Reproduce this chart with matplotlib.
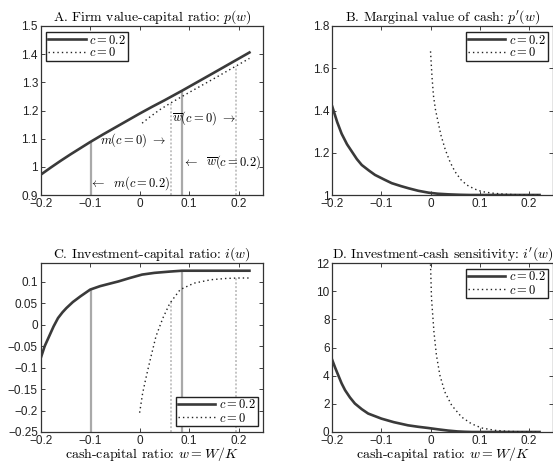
import matplotlib
matplotlib.use('Agg')
import matplotlib.pyplot as plt
from matplotlib.ticker import FuncFormatter

plt.rcParams['mathtext.fontset'] = 'cm'
plt.rcParams['font.family'] = ['Liberation Sans', 'DejaVu Sans']

# ---- data ----
# panel A: firm value-capital ratio p(w)
wa_hi = [-0.2, -0.18, -0.16, -0.14, -0.12, -0.1, -0.075, -0.05, -0.025, 0.0, 0.025, 0.05, 0.0855, 0.15, 0.222]
pa_hi = [0.972, 0.997, 1.021, 1.044, 1.066, 1.088, 1.114, 1.139, 1.164, 1.189, 1.213, 1.236, 1.270, 1.334, 1.406]
wa_lo = [0.005, 0.02, 0.04, 0.063, 0.1, 0.15, 0.195, 0.222]
pa_lo = [1.155, 1.176, 1.202, 1.227, 1.264, 1.313, 1.358, 1.385]

# panel B: marginal value of cash p'(w)
wb_hi = [-0.2, -0.19, -0.181, -0.17, -0.16, -0.15, -0.14, -0.125, -0.113, -0.095, -0.079, -0.06, -0.045, -0.025, -0.004, 0.015, 0.037, 0.06, 0.08, 0.222]
pb_hi = [1.418, 1.345, 1.29, 1.24, 1.205, 1.17, 1.142, 1.115, 1.095, 1.074, 1.056, 1.042, 1.032, 1.02, 1.011, 1.006, 1.003, 1.001, 1.0, 1.0]
wb_lo = [0.0, 0.003, 0.006, 0.01, 0.015, 0.021, 0.03, 0.04, 0.05, 0.062, 0.074, 0.09, 0.105, 0.125, 0.145, 0.17, 0.2, 0.222]
pb_lo = [1.68, 1.56, 1.47, 1.405, 1.35, 1.285, 1.215, 1.155, 1.11, 1.072, 1.047, 1.028, 1.016, 1.009, 1.005, 1.002, 1.0, 1.0]

# panel C: investment-capital ratio i(w)
wc_hi = [-0.2, -0.192, -0.183, -0.174, -0.165, -0.156, -0.148, -0.135, -0.12, -0.1, -0.08, -0.06, -0.043, -0.02, 0.005, 0.03, 0.061, 0.0855, 0.222]
ic_hi = [-0.078, -0.05, -0.027, -0.004, 0.0156, 0.029, 0.039, 0.053, 0.066, 0.082, 0.09, 0.096, 0.101, 0.109, 0.117, 0.121, 0.124, 0.126, 0.126]
wc_lo = [0.0, 0.006, 0.012, 0.018, 0.023, 0.033, 0.047, 0.061, 0.082, 0.11, 0.144, 0.175, 0.2, 0.222]
ic_lo = [-0.205, -0.16, -0.128, -0.098, -0.074, -0.027, 0.0156, 0.05, 0.082, 0.097, 0.105, 0.108, 0.109, 0.109]

# panel D: investment-cash sensitivity i'(w)
wd_hi = [-0.2, -0.194, -0.188, -0.181, -0.174, -0.164, -0.154, -0.14, -0.127, -0.1, -0.075, -0.046, -0.025, -0.005, 0.015, 0.036, 0.055, 0.07, 0.085, 0.222]
id_hi = [5.1, 4.55, 4.04, 3.45, 2.97, 2.45, 2.02, 1.62, 1.31, 0.95, 0.7, 0.475, 0.37, 0.285, 0.19, 0.1, 0.04, 0.015, 0.0, 0.0]
wd_lo = [0.0, 0.002, 0.007, 0.012, 0.019, 0.029, 0.043, 0.063, 0.083, 0.104, 0.131, 0.158, 0.19, 0.222]
id_lo = [11.9, 9.5, 7.1, 5.46, 4.04, 2.85, 1.9, 1.07, 0.59, 0.285, 0.12, 0.05, 0.01, 0.0]

# boundaries: m and w-bar for c=0.2 and c=0
m_hi, wbar_hi = -0.098, 0.0855
m_lo, wbar_lo = 0.063, 0.195

xticks = [-0.2, -0.1, 0, 0.1, 0.2]

DARK = '#3a3a3a'
GREY = '#a9a9a9'
SERIF = 'cmr10'


def fmt(v, pos):
    s = f'{v:g}'
    if s == '-0':
        s = '0'
    return s.replace('-', '\u2212')


def style(ax, ylim, yticks):
    ax.set_xlim(-0.2, 0.25)
    ax.set_ylim(*ylim)
    ax.set_xticks(xticks)
    ax.set_yticks(yticks)
    ax.xaxis.set_major_formatter(FuncFormatter(fmt))
    ax.yaxis.set_major_formatter(FuncFormatter(fmt))
    ax.tick_params(direction='in', top=True, right=True, length=3, width=0.6,
                   labelsize=8.5, pad=2, colors='#222222')
    for sp in ax.spines.values():
        sp.set_linewidth(0.9)
        sp.set_color('#333333')


def curves(ax, w1, y1, w0, y0):
    ax.plot(w1, y1, color=DARK, lw=1.9, label=r'$c = 0.2$', zorder=3)
    ax.plot(w0, y0, color='#222222', lw=1.0, linestyle=(0, (1, 2.2)), label=r'$c = 0$', zorder=3)


def legend(ax, loc):
    lg = ax.legend(loc=loc, prop={'family': SERIF, 'size': 9}, handlelength=3.0,
                   handletextpad=0.3, labelspacing=0.0, borderpad=0.15,
                   borderaxespad=0.45, fancybox=False, framealpha=1)
    lg.get_frame().set_edgecolor('#222222')
    lg.get_frame().set_linewidth(1.0)


def title(ax, s):
    ax.set_title(s, fontfamily=SERIF, fontsize=9.9, pad=4)


fig = plt.figure(figsize=(5.53, 4.62), dpi=100)
W, H = 553.0, 462.0
axA = fig.add_axes([40.7 / W, 1 - 195 / H, 222.6 / W, 169 / H])
axB = fig.add_axes([332.3 / W, 1 - 195 / H, 221.0 / W, 169 / H])
axC = fig.add_axes([40.7 / W, 1 - 432 / H, 222.6 / W, 169 / H])
axD = fig.add_axes([332.3 / W, 1 - 432 / H, 221.0 / W, 169 / H])

# A
style(axA, (0.9, 1.5), [0.9, 1.0, 1.1, 1.2, 1.3, 1.4, 1.5])
curves(axA, wa_hi, pa_hi, wa_lo, pa_lo)
axA.vlines([m_hi, wbar_hi], 0.9, [1.088, 1.270], color=GREY, lw=1.6, zorder=2)
axA.vlines([m_lo, wbar_lo], 0.9, [1.227, 1.358], color='#c4c4c4', lw=1.4,
           linestyles=[(0, (1, 1))], zorder=2)
tk = dict(fontfamily=SERIF, fontsize=9, va='center')
axA.text(0.053, 1.095, r'$m(c = 0)\ \rightarrow$', ha='right', **tk)
axA.text(0.066, 1.172, r'$\overline{w}(c = 0)\ \rightarrow$', ha='left', **tk)
axA.text(0.246, 1.017, r'$\leftarrow\ \ \overline{w}(c = 0.2)$', ha='right', **tk)
axA.text(0.062, 0.943, r'$\leftarrow\ \ m(c = 0.2)$', ha='right', **tk)
legend(axA, 'upper left')
title(axA, r'A. Firm value-capital ratio: $p(w)$')

# B
style(axB, (1.0, 1.8), [1.0, 1.2, 1.4, 1.6, 1.8])
curves(axB, wb_hi, pb_hi, wb_lo, pb_lo)
legend(axB, 'upper right')
title(axB, r"B. Marginal value of cash: $p'(w)$")

# C
style(axC, (-0.25, 0.144), [-0.25, -0.2, -0.15, -0.1, -0.05, 0, 0.05, 0.1])
curves(axC, wc_hi, ic_hi, wc_lo, ic_lo)
axC.vlines([m_hi, wbar_hi], -0.25, [0.082, 0.126], color=GREY, lw=1.6, zorder=2)
axC.vlines([m_lo, wbar_lo], -0.25, [0.055, 0.108], color='#c4c4c4', lw=1.4,
           linestyles=[(0, (1, 1))], zorder=2)
legend(axC, 'lower right')
title(axC, r'C. Investment-capital ratio: $i(w)$')
axC.set_xlabel(r'cash-capital ratio: $w = W/K$', fontfamily=SERIF, fontsize=10, labelpad=-1.5)

# D
style(axD, (0, 12), [0, 2, 4, 6, 8, 10, 12])
curves(axD, wd_hi, id_hi, wd_lo, id_lo)
legend(axD, 'upper right')
title(axD, r"D. Investment-cash sensitivity: $i'(w)$")
axD.set_xlabel(r'cash-capital ratio: $w = W/K$', fontfamily=SERIF, fontsize=10, labelpad=-1.5)

fig.savefig('out.png', dpi=100)
